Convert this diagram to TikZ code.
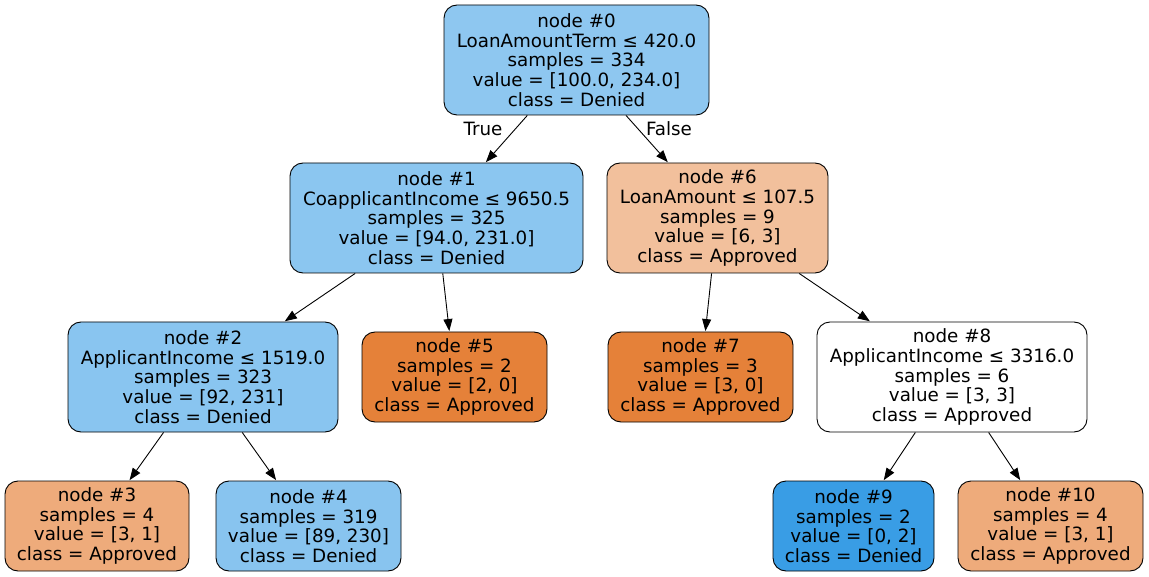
\documentclass[tikz,border=0pt]{standalone}
\usepackage{fontspec}
\setmainfont{DejaVu Sans}
\usetikzlibrary{arrows.meta}
\definecolor{c0}{HTML}{8EC7F0}
\definecolor{c1}{HTML}{8BC6F0}
\definecolor{c2}{HTML}{89C5F0}
\definecolor{c4}{HTML}{88C4EF}
\definecolor{c6}{HTML}{F2C09C}
\definecolor{c3}{HTML}{EEAB7B}
\definecolor{c5}{HTML}{E58139}
\definecolor{c9}{HTML}{399DE5}
\tikzset{
  tnode/.style={draw=black, line width=0.9pt, rounded corners=13pt, rectangle, inner sep=0pt,
    align=center, font=\fontsize{18.3}{19.6}\selectfont},
  edgelbl/.style={font=\fontsize{18.3}{19.6}\selectfont, inner sep=0pt},
  conn/.style={draw=black, line width=0.9pt, -{Triangle[length=12pt,width=9pt]}, shorten >=0.5pt}
}
\begin{document}
\begin{tikzpicture}[x=1pt,y=-1pt]
\useasboundingbox (0,0) rectangle (1149,577);
\node[tnode, fill=c0, minimum width=265pt, minimum height=110pt] (n0) at (576.5,60)
  {node \#0\\LoanAmountTerm ≤ 420.0\\samples = 334\\value = [100.0, 234.0]\\class = Denied};
\node[tnode, fill=c1, minimum width=293pt, minimum height=110pt] (n1) at (436.5,218)
  {node \#1\\CoapplicantIncome ≤ 9650.5\\samples = 325\\value = [94.0, 231.0]\\class = Denied};
\node[tnode, fill=c6, minimum width=221pt, minimum height=110pt] (n6) at (717.5,218)
  {node \#6\\LoanAmount ≤ 107.5\\samples = 9\\value = [6, 3]\\class = Approved};
\node[tnode, fill=c2, minimum width=270pt, minimum height=110pt] (n2) at (203,377)
  {node \#2\\ApplicantIncome ≤ 1519.0\\samples = 323\\value = [92, 231]\\class = Denied};
\node[tnode, fill=c5, minimum width=185pt, minimum height=90pt] (n5) at (454.5,377)
  {node \#5\\samples = 2\\value = [2, 0]\\class = Approved};
\node[tnode, fill=c5, minimum width=185pt, minimum height=90pt] (n7) at (700.5,377)
  {node \#7\\samples = 3\\value = [3, 0]\\class = Approved};
\node[tnode, fill=white, minimum width=270pt, minimum height=110pt] (n8) at (952,377)
  {node \#8\\ApplicantIncome ≤ 3316.0\\samples = 6\\value = [3, 3]\\class = Approved};
\node[tnode, fill=c3, minimum width=184pt, minimum height=90pt] (n3) at (97,526)
  {node \#3\\samples = 4\\value = [3, 1]\\class = Approved};
\node[tnode, fill=c4, minimum width=185pt, minimum height=90pt] (n4) at (308.5,526)
  {node \#4\\samples = 319\\value = [89, 230]\\class = Denied};
\node[tnode, fill=c9, minimum width=161pt, minimum height=90pt] (n9) at (853.5,526)
  {node \#9\\samples = 2\\value = [0, 2]\\class = Denied};
\node[tnode, fill=c3, minimum width=185pt, minimum height=90pt] (n10) at (1050.5,526)
  {node \#10\\samples = 4\\value = [3, 1]\\class = Approved};
\draw[conn] (n0) -- (n1);
\draw[conn] (n0) -- (n6);
\draw[conn] (n1) -- (n2);
\draw[conn] (n1) -- (n5);
\draw[conn] (n6) -- (n7);
\draw[conn] (n6) -- (n8);
\draw[conn] (n2) -- (n3);
\draw[conn] (n2) -- (n4);
\draw[conn] (n8) -- (n9);
\draw[conn] (n8) -- (n10);
\node[edgelbl] (lt) at (483,129) {True};
\node[edgelbl] (lf) at (669,129) {False};
\end{tikzpicture}
\end{document}
